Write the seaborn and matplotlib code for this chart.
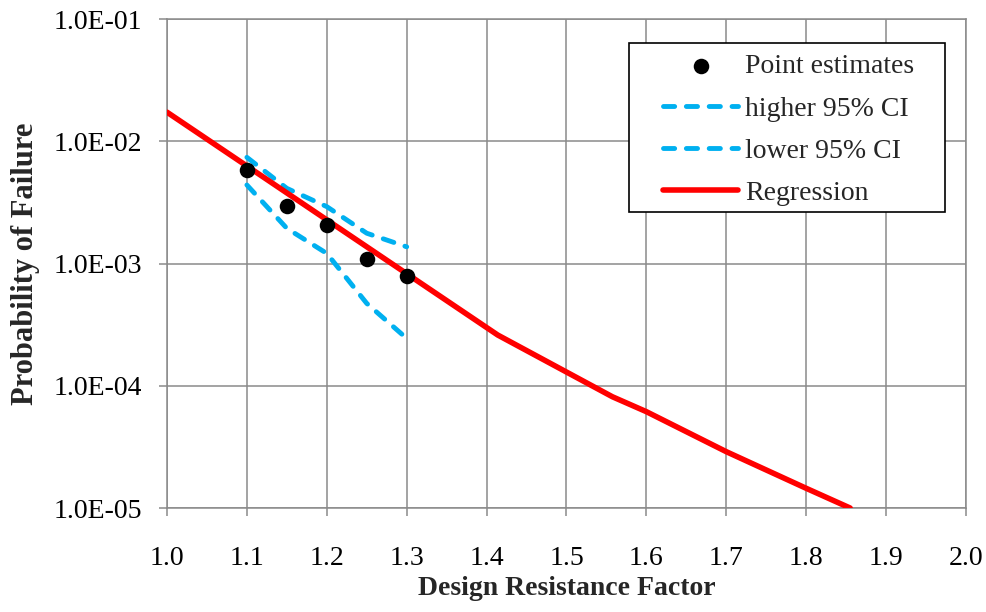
import pandas as pd
import matplotlib
matplotlib.use("Agg")
import matplotlib.pyplot as plt
from matplotlib.patches import Rectangle
from matplotlib.ticker import FixedLocator, FuncFormatter, NullLocator
import seaborn as sns

# ==================================================
#* Dados
# ==================================================
fator_pontos = [1.10, 1.15, 1.20, 1.25, 1.30]
pf_pontos = [5.82e-3, 2.97e-3, 2.06e-3, 1.09e-3, 7.94e-4]

pf_ic_superior = [7.39e-3, 4.12e-3, 2.92e-3, 1.77e-3, 1.37e-3]
pf_ic_inferior = [4.39e-3, 1.94e-3, 1.21e-3, 4.72e-4, 2.44e-4]

fator_regressao = [1.0, 1.414, 1.5575, 1.6, 1.7, 1.8, 1.855]
pf_regressao = [1.73e-2, 2.6e-4, 8.13e-5, 6.14e-5, 2.89e-5, 1.45e-5, 1.0e-5]

x_ticks = [1.0, 1.1, 1.2, 1.3, 1.4, 1.5, 1.6, 1.7, 1.8, 1.9, 2.0]
y_ticks = [1e-5, 1e-4, 1e-3, 1e-2, 1e-1]

df_pontos = pd.DataFrame({"Fator": fator_pontos, "Pf": pf_pontos,
                          "Sup": pf_ic_superior, "Inf": pf_ic_inferior})
df_reg = pd.DataFrame({"Fator": fator_regressao, "Pf": pf_regressao})

# ==================================================
#* Configuração visual
# ==================================================
sns.set_theme(style="whitegrid")
plt.rcParams["font.family"] = ["Liberation Serif", "DejaVu Serif"]

cinza = "#8a8a8a"
azul = "#00B0F0"

fig = plt.figure(figsize=(9.87, 6.12), dpi=100)
ax = fig.add_axes([0.1692, 0.1699, 0.8095, 0.7990])

sns.scatterplot(data=df_pontos, x="Fator", y="Pf", ax=ax, color="black",
                s=125, edgecolor="black", linewidth=0, zorder=5,
                label="Point estimates")
sns.lineplot(data=df_pontos, x="Fator", y="Sup", ax=ax, color=azul,
             linewidth=3.5, linestyle=(0, (2.3, 2.4)),
             dash_capstyle="round", zorder=3, label="higher 95% CI")
sns.lineplot(data=df_pontos, x="Fator", y="Inf", ax=ax, color=azul,
             linewidth=3.5, linestyle=(0, (2.3, 2.4)),
             dash_capstyle="round", zorder=3, label="lower 95% CI")
sns.lineplot(data=df_reg, x="Fator", y="Pf", ax=ax, color="#FF0000",
             linewidth=4.0, solid_capstyle="round", zorder=4,
             label="Regression")

# ==================================================
#* Eixos
# ==================================================
ax.set_yscale("log")
ax.set_xlim(1.0, 2.0)
ax.set_ylim(1e-5, 1e-1)
ax.xaxis.set_major_locator(FixedLocator(x_ticks))
ax.yaxis.set_major_locator(FixedLocator(y_ticks))
ax.yaxis.set_minor_locator(NullLocator())
ax.xaxis.set_major_formatter(FuncFormatter(lambda v, p: f"{v:.1f}"))
ax.yaxis.set_major_formatter(FuncFormatter(lambda v, p: f"{v:.1E}"))

ax.grid(True, color=cinza, linewidth=1.1)
for lado in ["left", "bottom", "top", "right"]:
    ax.spines[lado].set_color(cinza)
    ax.spines[lado].set_linewidth(1.1)

ax.tick_params(axis="both", which="major", direction="out", length=6,
               width=1.1, color=cinza, labelsize=20, labelcolor="black",
               left=True, bottom=True)
ax.tick_params(axis="x", pad=21)
ax.tick_params(axis="y", pad=12)

ax.set_xlabel("Design Resistance Factor", fontsize=20, fontweight="bold",
              labelpad=4)
ax.set_ylabel("Probability of Failure", fontsize=22, fontweight="bold",
              labelpad=10)

# ==================================================
#* Legenda (moldura desenhada à parte, como no Excel)
# ==================================================
moldura = Rectangle((0.578, 0.605), 0.396, 0.346, transform=ax.transAxes,
                    facecolor="white", edgecolor="black", linewidth=1.2,
                    zorder=6)
ax.add_patch(moldura)

leg = ax.legend(loc="upper left", bbox_to_anchor=(0.621, 0.9285),
                fontsize=20, frameon=False, handlelength=2.7,
                handletextpad=0.25, labelspacing=0.6, borderpad=0,
                borderaxespad=0)
leg.set_zorder(7)

fig.savefig("out.png", dpi=100)
